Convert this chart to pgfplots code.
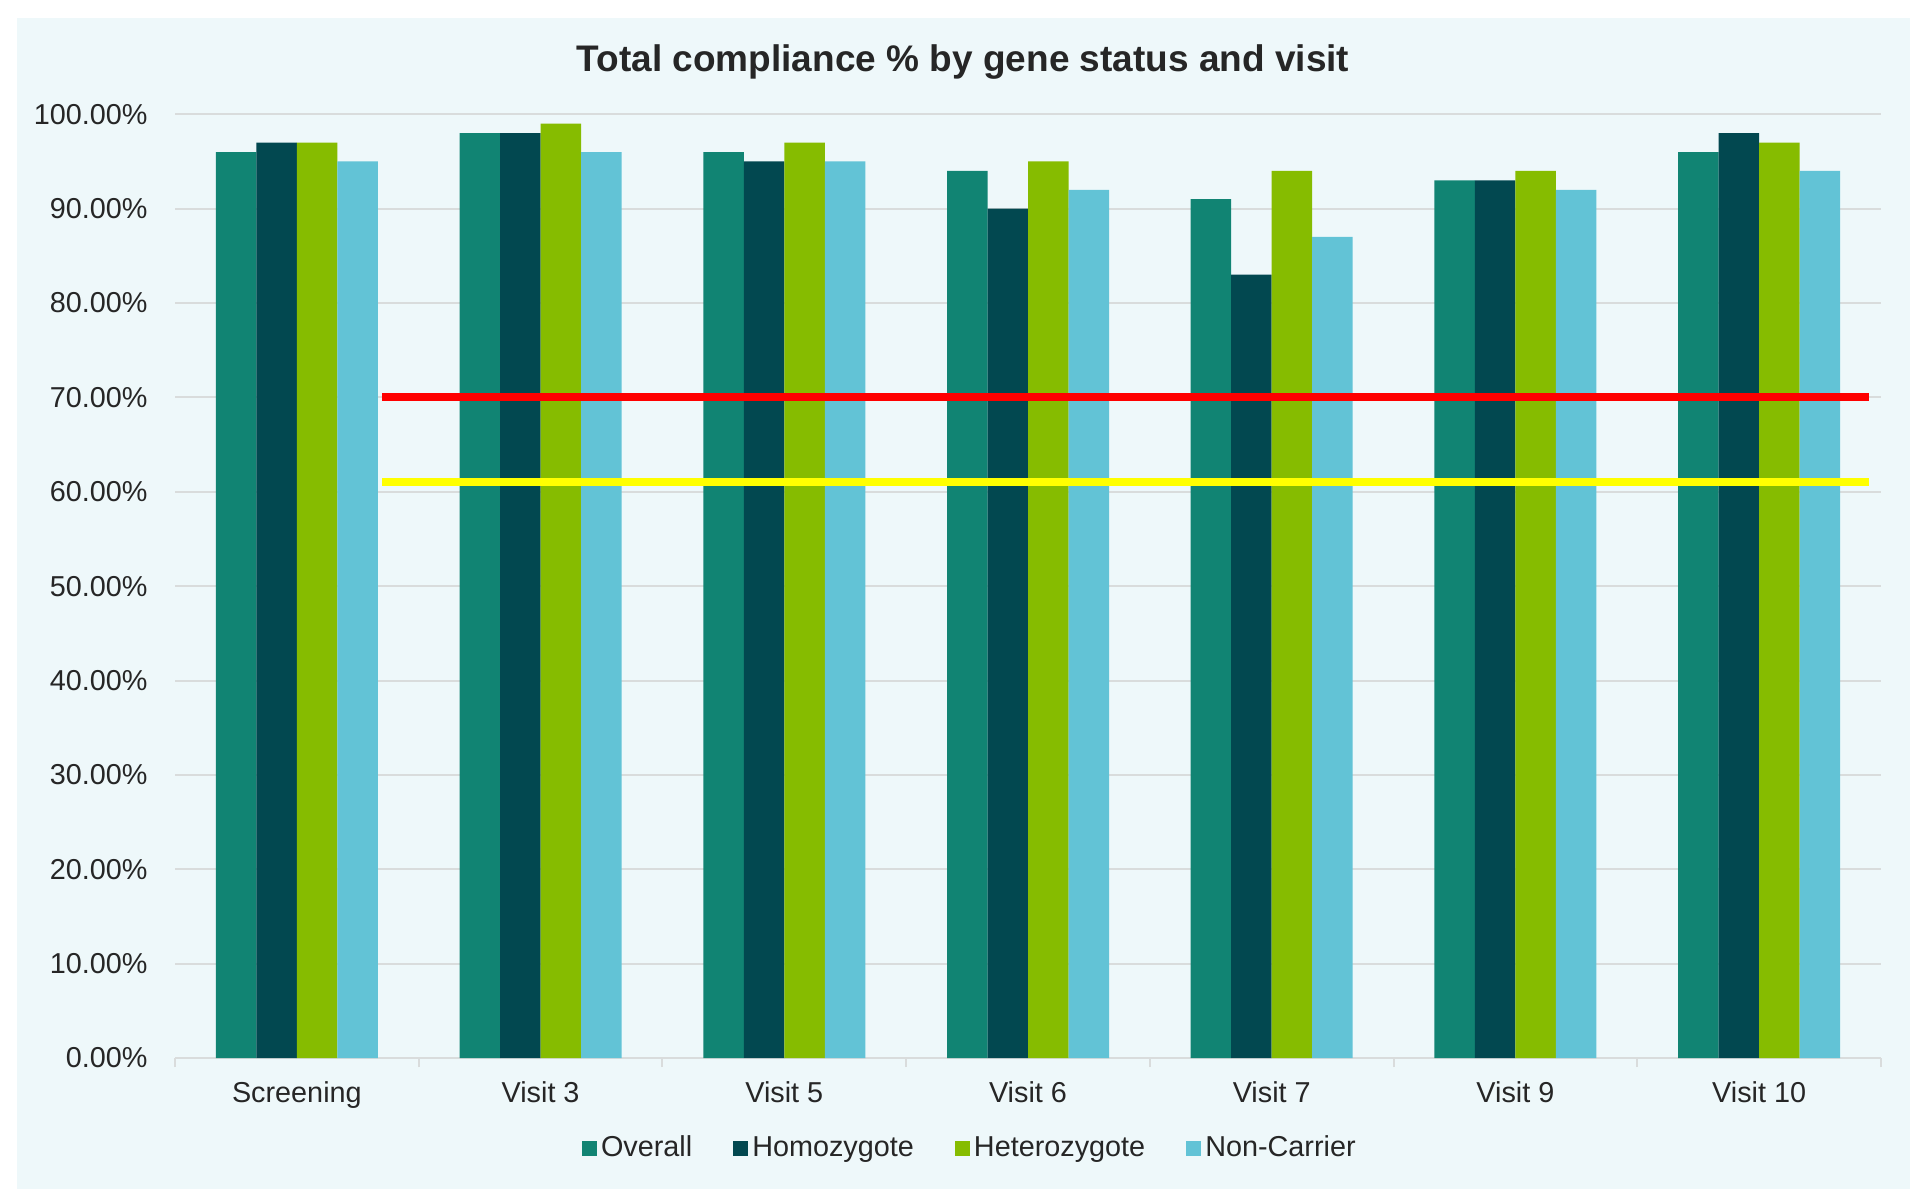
\documentclass[border=0pt]{standalone}
\usepackage{pgfplots}
\pgfplotsset{compat=1.18}
\usepackage{pgfplotstable}
\usepackage{fontspec}
\setmainfont{Liberation Sans}
\definecolor{bg}{HTML}{EEF8FA}
\definecolor{cOverall}{HTML}{118473}
\definecolor{cHomo}{HTML}{024850}
\definecolor{cHetero}{HTML}{86BC00}
\definecolor{cNon}{HTML}{62C3D6}
\definecolor{gridc}{HTML}{D9DCDC}
\definecolor{txt}{HTML}{262626}

\pgfplotstableread{
x overall homo hetero non
0 96 97 97 95
1 98 98 99 96
2 96 95 97 95
3 94 90 95 92
4 91 83 94 87
5 93 93 94 92
6 96 98 97 94
}\data

\begin{document}
\begin{tikzpicture}[x=1pt,y=1pt]
\fill[white] (0,0) rectangle (965,600);
\fill[bg] (8.5,5.5) rectangle (955,591);
\node[font=\fontsize{18.5}{22}\selectfont\bfseries, text=txt] at (481.5,568.8) {Total compliance \% by gene status and visit};
\begin{axis}[
  at={(87.5pt,71pt)}, anchor=south west,
  scale only axis, width=853pt, height=471.85pt,
  xmin=-0.5, xmax=6.5, ymin=0, ymax=100,
  axis x line=bottom, axis y line=left,
  x axis line style={-, draw=gridc, line width=1pt},
  y axis line style={draw=none},
  ytick={0,10,...,100},
  yticklabels={0.00\%,10.00\%,20.00\%,30.00\%,40.00\%,50.00\%,60.00\%,70.00\%,80.00\%,90.00\%,100.00\%},
  ymajorgrids, grid style={draw=gridc, line width=1pt},
  xtick={0,...,6},
  xticklabels={Screening,Visit 3,Visit 5,Visit 6,Visit 7,Visit 9,Visit 10},
  minor xtick={-0.5,0.5,...,6.5},
  major tick length=0pt, minor tick length=4.5pt, tick align=outside,
  minor tick style={draw=gridc, line width=1pt},
  tick label style={font=\fontsize{14.4}{17}\selectfont, text=txt},
  yticklabel style={anchor=east, inner sep=0pt, xshift=-13.5pt},
  xticklabel style={anchor=north, inner sep=0pt, yshift=-11.5pt},
  legend columns=4,
  legend style={at={(0.4665,-0.0954)}, anchor=center, draw=none, fill=none,
    font=\fontsize{14.4}{17}\selectfont, text=txt,
    /tikz/every even column/.append style={column sep=18.5pt}},
  legend image code/.code={\fill[#1] (0pt,-3.75pt) rectangle (7.5pt,3.75pt);},
]
\addplot[ybar, bar width=0.1662, bar shift=-0.2493, fill=cOverall, draw=none] table[x=x,y=overall]{\data};
\addlegendentry{Overall}
\addplot[ybar, bar width=0.1662, bar shift=-0.0831, fill=cHomo, draw=none] table[x=x,y=homo]{\data};
\addlegendentry{Homozygote}
\addplot[ybar, bar width=0.1662, bar shift=0.0831, fill=cHetero, draw=none] table[x=x,y=hetero]{\data};
\addlegendentry{Heterozygote}
\addplot[ybar, bar width=0.1662, bar shift=0.2493, fill=cNon, draw=none] table[x=x,y=non]{\data};
\addlegendentry{Non-Carrier}
\addplot[draw={rgb,255:red,255;green,0;blue,0}, line width=4pt, forget plot] coordinates {(0.35,70) (6.45,70)};
\addplot[draw={rgb,255:red,255;green,255;blue,0}, line width=4pt, forget plot] coordinates {(0.35,61) (6.45,61)};
\end{axis}
\end{tikzpicture}
\end{document}
